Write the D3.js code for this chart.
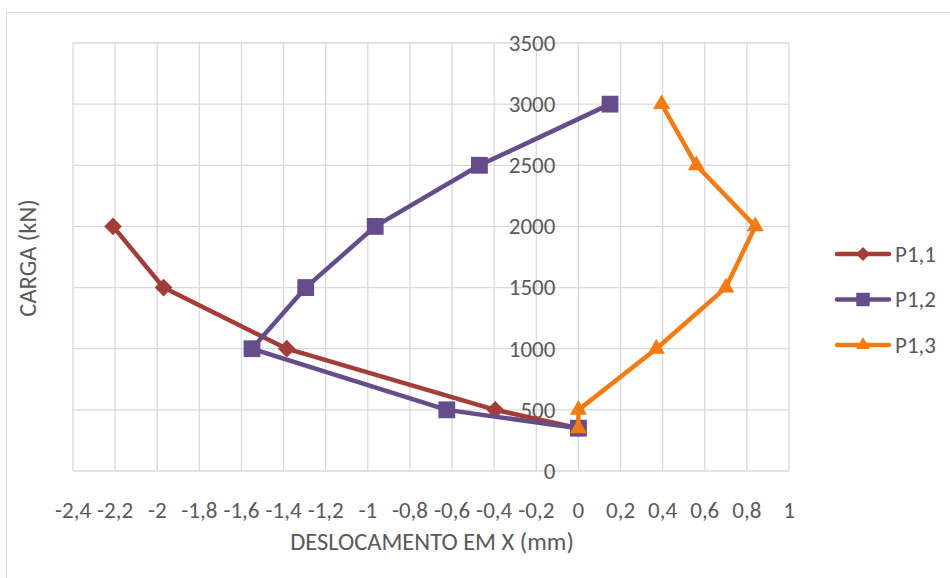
<!DOCTYPE html>
<html>
<head>
<meta charset="utf-8">
<script src="https://cdn.jsdelivr.net/npm/d3@7"></script>
<style>
  html, body { margin: 0; padding: 0; background: #fff; }
  svg text { font-family: Carlito, Calibri, Lato, "Open Sans", sans-serif; fill: #595959; }
</style>
</head>
<body>
<svg id="chart" width="950" height="578"></svg>
<script>
// Load (kN) versus horizontal displacement (mm) for three measuring points
const seriesNames = ["P1,1", "P1,2", "P1,3"];
const seriesColors = ["#A33D37", "#654C8A", "#F47B14"];
const seriesSymbols = ["diamond", "square", "triangle"];

const p11X = [-2.21, -1.97, -1.385, -0.395, 0];
const p11Y = [2000, 1500, 1000, 500, 350];

const p12X = [0, -0.625, -1.55, -1.295, -0.965, -0.47, 0.15];
const p12Y = [350, 500, 1000, 1500, 2000, 2500, 3000];

const p13X = [0, 0, 0.37, 0.70, 0.84, 0.56, 0.395];
const p13Y = [350, 500, 1000, 1500, 2000, 2500, 3000];

const xTicks = [-2.4, -2.2, -2, -1.8, -1.6, -1.4, -1.2, -1, -0.8, -0.6, -0.4, -0.2, 0, 0.2, 0.4, 0.6, 0.8, 1];
const yTicks = [0, 500, 1000, 1500, 2000, 2500, 3000, 3500];

const xTitle = "DESLOCAMENTO EM X (mm)";
const yTitle = "CARGA (kN)";

const series = [
  { name: seriesNames[0], xs: p11X, ys: p11Y },
  { name: seriesNames[1], xs: p12X, ys: p12Y },
  { name: seriesNames[2], xs: p13X, ys: p13Y }
].map((s, i) => ({
  name: s.name,
  color: seriesColors[i],
  symbol: seriesSymbols[i],
  points: s.xs.map((x, j) => ({ x, y: s.ys[j] }))
}));

const svg = d3.select("#chart");
const plot = { left: 73, right: 789, top: 43, bottom: 471 };

const x = d3.scaleLinear().domain([-2.4, 1]).range([plot.left, plot.right]);
const y = d3.scaleLinear().domain([0, 3500]).range([plot.bottom, plot.top]);

// Decimal comma and a plain hyphen for negatives
const fmt = v => String(+v.toFixed(1)).replace(".", ",");

// Chart frame
svg.append("rect")
  .attr("x", 6.5).attr("y", 12.5)
  .attr("width", 960).attr("height", 600)
  .attr("fill", "none").attr("stroke", "#d9d9d9").attr("stroke-width", 1);

// Gridlines
const grid = svg.append("g").attr("stroke", "#d9d9d9").attr("stroke-width", 1.3);
grid.selectAll("line.v").data(xTicks).join("line")
  .attr("class", "v")
  .attr("x1", d => x(d)).attr("x2", d => x(d))
  .attr("y1", plot.top).attr("y2", plot.bottom);
grid.selectAll("line.h").data(yTicks).join("line")
  .attr("class", "h")
  .attr("x1", plot.left).attr("x2", plot.right)
  .attr("y1", d => y(d)).attr("y2", d => y(d));

// X tick labels below the plot
svg.append("g").selectAll("text").data(xTicks).join("text")
  .attr("x", d => x(d)).attr("y", 518)
  .attr("text-anchor", "middle")
  .attr("font-size", 23)
  .text(fmt);

// Y tick labels beside the zero line
svg.append("g").selectAll("text").data(yTicks).join("text")
  .attr("x", x(0) - 23).attr("y", d => y(d))
  .attr("dy", "0.34em")
  .attr("text-anchor", "end")
  .attr("font-size", 23)
  .text(d => d);

// Axis titles
svg.append("text")
  .attr("x", 432).attr("y", 550)
  .attr("text-anchor", "middle")
  .attr("font-size", 24.5)
  .text(xTitle);
svg.append("text")
  .attr("transform", "translate(36,258) rotate(-90)")
  .attr("text-anchor", "middle")
  .attr("font-size", 24.5)
  .text(yTitle);

const symbolPath = {
  diamond: d3.symbol().type(d3.symbolDiamond2).size(200),
  square: d3.symbol().type(d3.symbolSquare2).size(360),
  triangle: d3.symbol().type(d3.symbolTriangle2).size(210)
};

const line = d3.line().x(d => x(d.x)).y(d => y(d.y));

series.forEach(s => {
  const g = svg.append("g");
  g.append("path")
    .datum(s.points)
    .attr("d", line)
    .attr("fill", "none")
    .attr("stroke", s.color)
    .attr("stroke-width", 4.5)
    .attr("stroke-linejoin", "round")
    .attr("stroke-linecap", "round");
  g.selectAll("path.m").data(s.points).join("path")
    .attr("class", "m")
    .attr("d", symbolPath[s.symbol])
    .attr("transform", d => `translate(${x(d.x)},${y(d.y)})`)
    .attr("fill", s.color);
});

// Legend
const legend = svg.append("g");
const legendY = [254, 299.5, 345];
series.forEach((s, i) => {
  const g = legend.append("g").attr("transform", `translate(0,${legendY[i]})`);
  g.append("line")
    .attr("x1", 837).attr("x2", 889)
    .attr("stroke", s.color).attr("stroke-width", 4.5)
    .attr("stroke-linecap", "round");
  g.append("path")
    .attr("d", symbolPath[s.symbol])
    .attr("transform", "translate(863,0) scale(0.8)")
    .attr("fill", s.color);
  g.append("text")
    .attr("x", 895).attr("dy", "0.34em")
    .attr("font-size", 23)
    .text(s.name);
});
</script>
</body>
</html>
